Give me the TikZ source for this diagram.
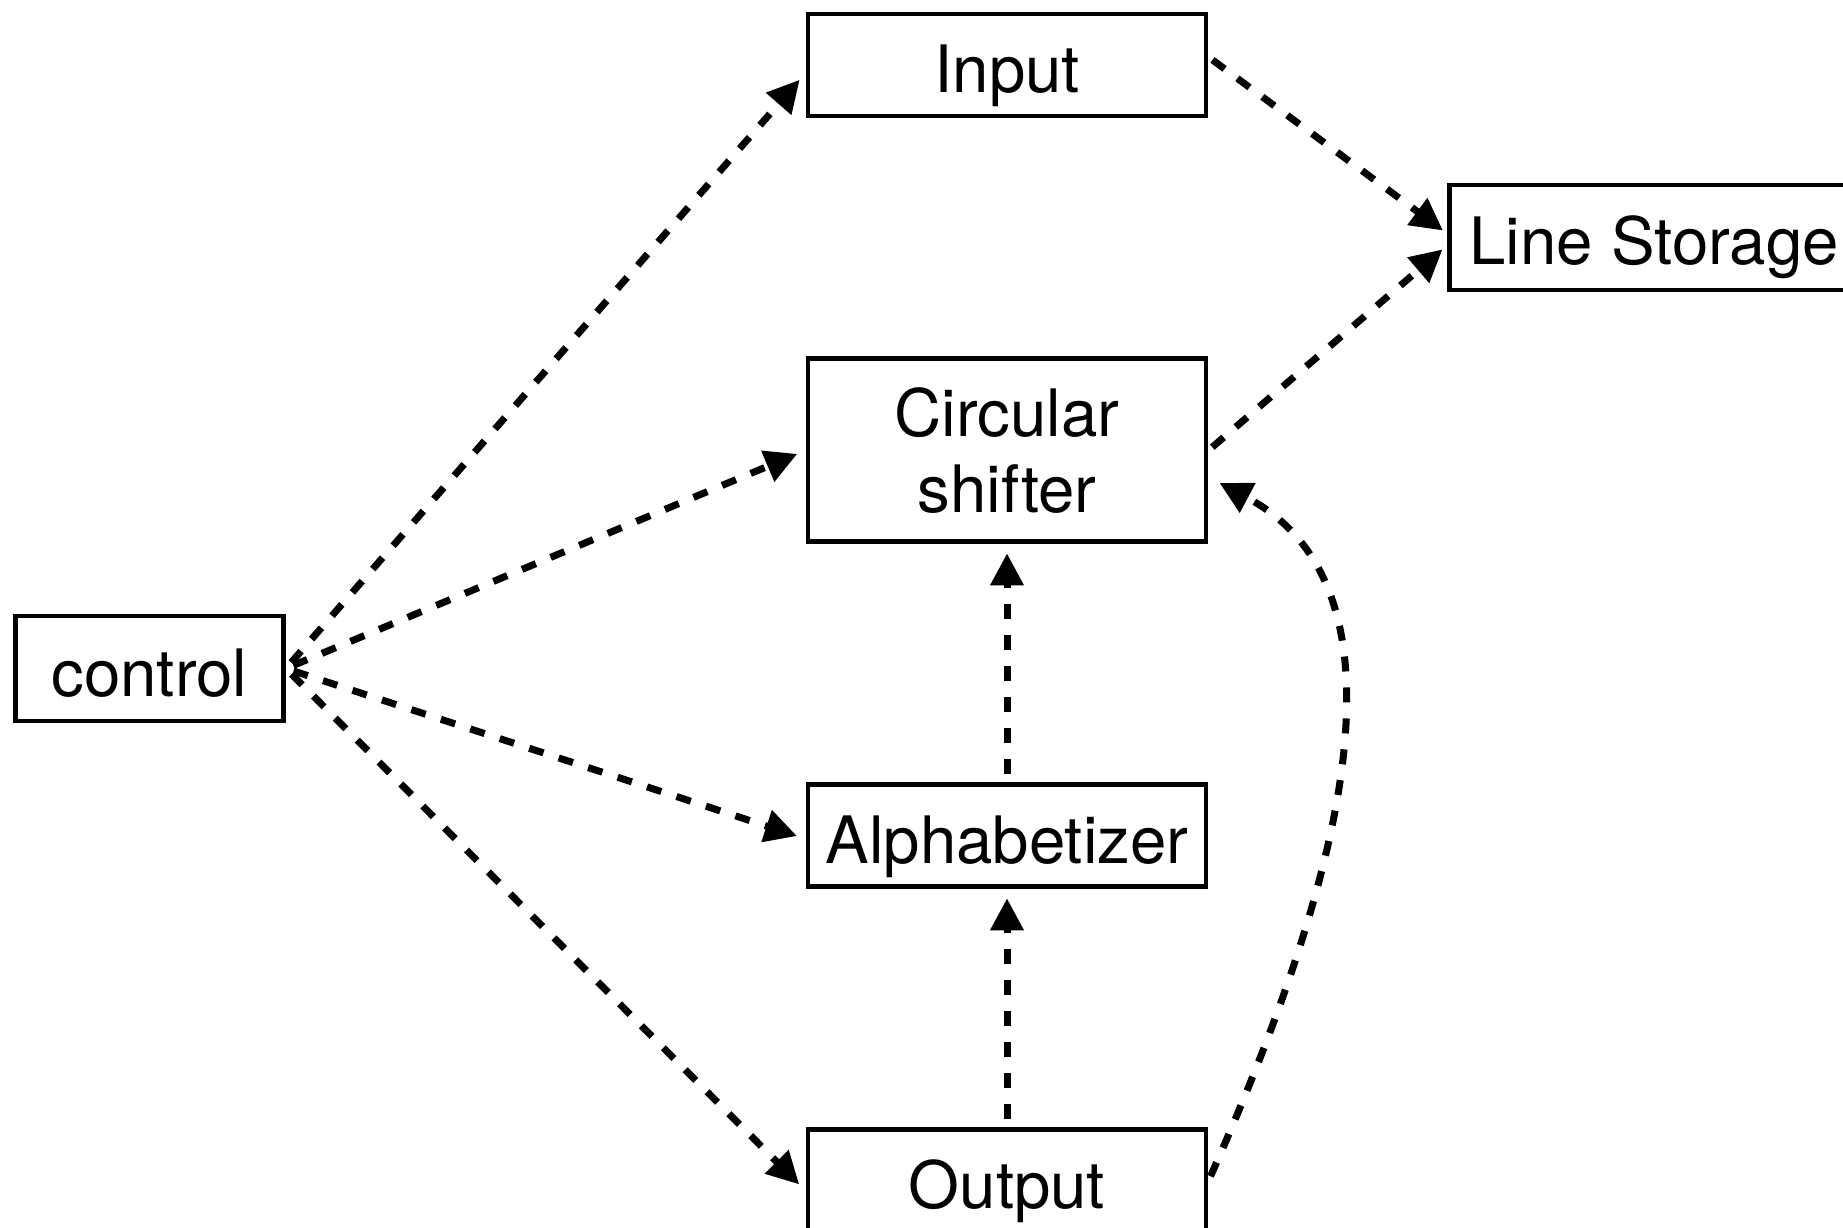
\documentclass[tikz,border=0pt]{standalone}
\usepackage{fontspec}
\setmainfont{TeX Gyre Heros}
\usetikzlibrary{arrows.meta, positioning}
\tikzstyle{box} = [rectangle, minimum width=3.98cm, minimum height=1.02cm, text centered, draw=black, line width=1.4pt, inner ysep=0pt, text height=0.75cm, text depth=0.2cm, font=\fontsize{18.6pt}{21.5pt}\selectfont]
\tikzstyle{arrow} = [line width=2pt, dash pattern=on 0.15cm off 0.16cm, -{Triangle[length=0.32cm, width=0.32cm]}, shorten <=0.08cm, shorten >=0.09cm]

\begin{document}
\begin{tikzpicture}
    \useasboundingbox (0,0) rectangle (18.43,-12.28);
    % Nodes
    \node (input) [box] at (10.07,-0.65) {Input};
    \node (circ) [box, below=2.38cm of input, minimum height=1.83cm, text height=, text depth=, align=center] {Circular\\shifter};
    \node (alpha) [box, below=2.38cm of circ] {Alphabetizer};
    \node (output) [box, below=2.38cm of alpha] {Output};
    \node (control) [box, minimum width=2.68cm, minimum height=1.05cm] at (1.495,-6.685) {control};
    \node (store) [box, anchor=west, minimum width=0pt, minimum height=1.05cm, inner xsep=0.2cm] at (14.47,-2.375) {Line Storage};

    % Arrows
    \draw [arrow] (control.east) -- ([yshift=-0.08cm]input.west);
    \draw [arrow] (control.east) -- (circ.west);
    \draw [arrow] (control.east) -- ([yshift=-0.03cm]alpha.west);
    \draw [arrow] (control.east) -- ([yshift=-0.1cm]output.west);

    \draw [arrow, shorten <=0.05cm, shorten >=0.05cm] ([yshift=0.08cm]input.east) -- ([yshift=0.04cm]store.west);
    \draw [arrow, shorten <=0.05cm, shorten >=0.06cm] (circ.east) -- ([yshift=-0.08cm]store.west);

    \draw [arrow] (alpha.north) -- (circ.south);
    \draw [arrow] (output.north) -- (alpha.south);
    \draw [arrow, shorten <=0.05cm, shorten >=0pt] (output.east) to[out=66, in=-28, out distance=3.5cm, in distance=2.2cm] ([shift={(0.11,-0.325)}]circ.east);
\end{tikzpicture}
\end{document}
